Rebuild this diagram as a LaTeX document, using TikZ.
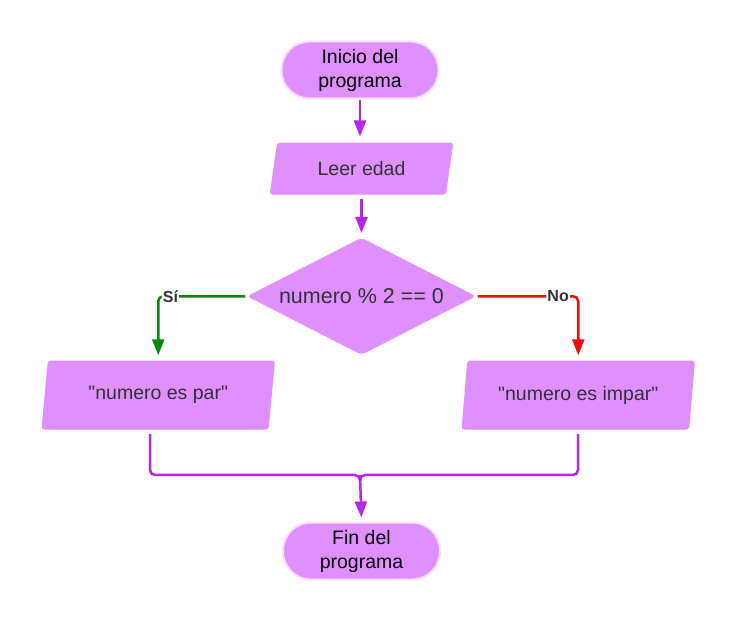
\documentclass[tikz,border=0pt]{standalone}
\usepackage{fontspec}
\setmainfont{Liberation Sans}
\usetikzlibrary{arrows.meta,positioning,shapes.geometric}

\definecolor{relleno}{RGB}{224,143,255}
\definecolor{borde}{RGB}{246,224,255}
\definecolor{flecha}{RGB}{183,38,240}
\definecolor{verde}{RGB}{10,135,10}
\definecolor{rojo}{RGB}{232,16,16}
\definecolor{texto}{RGB}{51,51,51}

\tikzset{
  terminal/.style={rectangle, rounded corners=28pt, fill=relleno, draw=borde, line width=2pt,
    minimum width=157pt, minimum height=57pt, inner sep=0pt, align=center,
    font=\fontsize{19.5}{24}\selectfont, text=black},
  datos/.style={trapezium, trapezium stretches=true, trapezium left angle=77, trapezium right angle=103,
    fill=relleno, rounded corners=3pt, minimum width=234pt, minimum height=69pt, inner sep=0pt,
    font=\fontsize{19.5}{24}\selectfont, text=texto},
  rombo/.style={diamond, aspect=2, fill=relleno, rounded corners=4pt, minimum width=230pt,
    minimum height=118pt, inner sep=0pt, font=\fontsize{21.5}{26}\selectfont, text=texto},
  etiqueta/.style={fill=white, inner sep=1pt, font=\bfseries\fontsize{16}{19}\selectfont, text=texto},
}

\begin{document}
\begin{tikzpicture}[x=1pt,y=1pt,>={Triangle[length=16pt,width=12pt]},line width=2.5pt,rounded corners=5pt]
\useasboundingbox (0,0) rectangle (738,620);

\node[terminal] (inicio) at (360,550) {Inicio del\\programa};
\node[datos, minimum width=185pt, minimum height=52pt, trapezium left angle=75, trapezium right angle=105]
  (leer) [below=42pt of inicio, xshift=1.5pt] {Leer edad};
\node[rombo] (cond) [below=40pt of leer] {numero \% 2 == 0};

\node[datos] (parL) [below=63pt of cond.west, xshift=-87pt] {\textquotedbl numero es par\textquotedbl};
\node[datos] (parR) [below=63pt of cond.east, xshift=100.5pt] {\textquotedbl numero es impar\textquotedbl};

\node[terminal] (fin) [below=165pt of cond] {Fin del\\programa};

\coordinate (salL) at (150,186);
\coordinate (salR) at (578,186);
\coordinate (junta) at (360,145);

\draw[->, flecha, shorten >=5pt, shorten <=1pt] (inicio) -- (inicio |- leer.north);
\draw[->, flecha, shorten >=3pt, shorten <=3pt] (leer.south -| cond.north) -- (cond.north);

\draw[->, verde, shorten >=4pt] (cond.west) -| node[etiqueta, pos=0.43] {Sí} (parL.north);
\draw[->, rojo, shorten >=4pt] (cond.east) -| node[etiqueta, pos=0.40] {No} (parR.north);

\draw[flecha] (salL) |- (junta) -- ++(0,-6);
\draw[flecha] (salR) |- (junta) -- ++(0,-6);
\draw[->, flecha, shorten >=4pt] (junta) -- (fin.north);

\end{tikzpicture}
\end{document}
